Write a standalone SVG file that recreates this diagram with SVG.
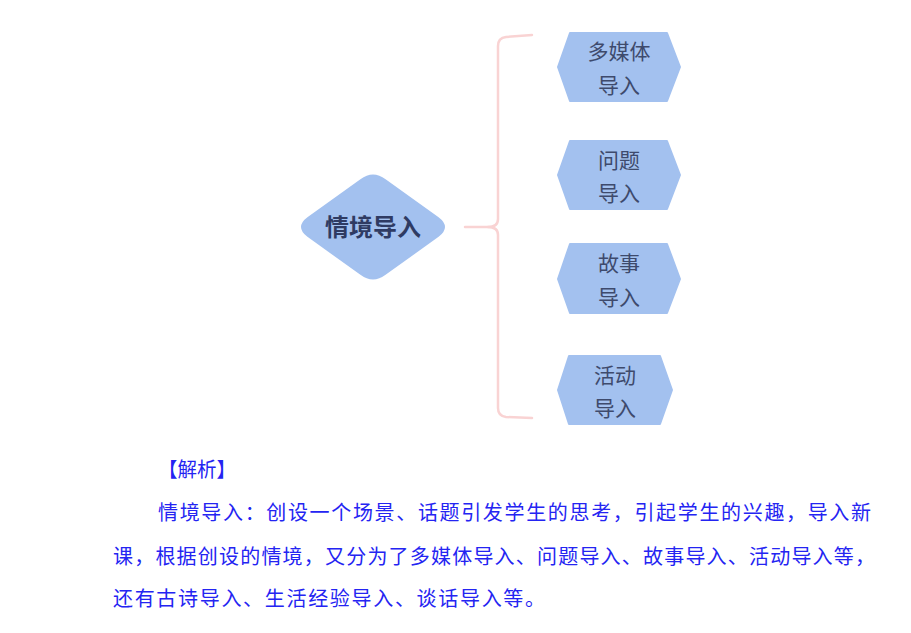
<svg xmlns="http://www.w3.org/2000/svg" width="911" height="633" viewBox="0 0 911 633">
<style>
.node{fill:#a3c1ef;stroke:#a3c1ef;stroke-width:2;stroke-linejoin:round}
.nt{font-family:"Noto Sans CJK SC","Noto Sans",sans-serif;font-size:21px;fill:#3e4a6c;text-anchor:middle}
.ct{font-family:"Noto Sans CJK SC","Noto Sans",sans-serif;font-size:24px;font-weight:bold;fill:#2f3b63;text-anchor:middle}
.conn{fill:none;stroke:#f9d3d3;stroke-width:2.5;stroke-linecap:round}
.bt{font-family:"Noto Sans CJK SC","Noto Sans",sans-serif;font-size:20px;fill:#2424f2}
</style>
<rect width="911" height="633" fill="#ffffff"/>
<g id="connectors">
<path class="conn" d="M465,227 L488,227 Q498,227 498,219 L498,46 Q498,38 506,37 L532,35"/>
<path class="conn" d="M488,227 Q498,227 498,235 L498,408 Q498,416 506,417 L532,418"/>
</g>
<g id="center">
<path class="node" d="M308,236 Q296,227 308,218 L361,180 Q373,171 385,180 L438,218 Q450,227 438,236 L385,274 Q373,283 361,274 Z"/>
<text class="ct" x="373" y="236">情境导入</text>
</g>
<g id="n1">
<path class="node" d="M570,33 L667,33 L680,67 L667,101 L570,101 L558,67 Z"/>
<text class="nt" x="619" y="59">多媒体</text>
<text class="nt" x="619" y="93">导入</text>
</g>
<g id="n2">
<path class="node" d="M570,141 L667,141 L680,175 L667,209 L570,209 L558,175 Z"/>
<text class="nt" x="619" y="168">问题</text>
<text class="nt" x="619" y="201">导入</text>
</g>
<g id="n3">
<path class="node" d="M570,244 L667,244 L680,279 L667,313 L570,313 L558,279 Z"/>
<text class="nt" x="619" y="271">故事</text>
<text class="nt" x="619" y="305">导入</text>
</g>
<g id="n4">
<path class="node" d="M569,356 L660,356 L672,390 L660,424 L569,424 L558,390 Z"/>
<text class="nt" x="615" y="383">活动</text>
<text class="nt" x="615" y="416">导入</text>
</g>
<g id="analysis">
<text class="bt" x="158" y="477" textLength="78" lengthAdjust="spacingAndGlyphs">【解析】</text>
<text class="bt" x="158" y="520" textLength="713" lengthAdjust="spacing">情境导入：创设一个场景、话题引发学生的思考，引起学生的兴趣，导入新</text>
<text class="bt" x="113" y="564" textLength="762" lengthAdjust="spacing">课，根据创设的情境，又分为了多媒体导入、问题导入、故事导入、活动导入等，</text>
<text class="bt" x="113" y="606" textLength="432" lengthAdjust="spacing">还有古诗导入、生活经验导入、谈话导入等。</text>
</g>
</svg>
